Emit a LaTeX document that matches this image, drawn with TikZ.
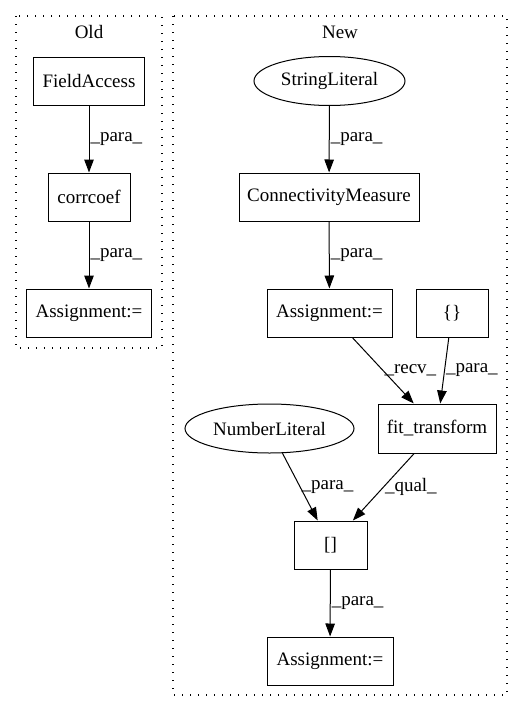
\documentclass[tikz,border=0pt]{standalone}
\usepackage{fontspec}
\setmainfont{Liberation Serif}
\usetikzlibrary{arrows.meta, shapes.geometric}

\begin{document}
\begin{tikzpicture}[x=1pt, y=-1pt, font=\fontsize{19}{22}\selectfont,
        box/.style={draw, line width=1pt, minimum height=48pt, inner sep=0pt},
        oval/.style={draw, ellipse, line width=1pt, minimum height=49pt, inner sep=0pt},
        flow/.style={->, line width=1pt, >={Triangle[length=13pt, width=9.5pt]}},
        lbl/.style={midway, anchor=west, inner sep=1pt},
        cluster/.style={line width=1.2pt, dash pattern=on 1.3pt off 6.7pt}]
        \useasboundingbox (0,0) rectangle (523,712);

        % old version
        \draw [cluster] (16,16) rectangle (162,348);
        \node (T1) at (89,32) {Old};
        \node [box, minimum width=111pt] (O1) at (89,81) {FieldAccess};
        \node [box, minimum width=82pt] (O2) at (89,197) {corrcoef};
        \node [box, minimum width=125pt] (O3) at (89,313) {Assignment:=};

        \draw [flow] (O1) -- (O2) node [lbl] {\_para\_};
        \draw [flow] (O2) -- (O3) node [lbl] {\_para\_};

        % new version
        \draw [cluster] (173,16) rectangle (507,695);
        \node (T2) at (340,32) {New};
        \node [oval, minimum width=151pt] (N1) at (329.5,81) {StringLiteral};
        \node [box, minimum width=180pt] (N2) at (329,197) {ConnectivityMeasure};
        \node [box, minimum width=125pt] (N3) at (329.5,313) {Assignment:=};
        \node [box, minimum width=72pt] (N4) at (452,313) {\{\}};
        \node [box, minimum width=118pt, minimum height=49pt] (N5) at (437,428.5) {fit\_transform};
        \node [oval, minimum width=169pt] (N6) at (269.5,428.5) {NumberLiteral};
        \node [box, minimum width=73pt] (N7) at (330.5,545) {[]};
        \node [box, minimum width=126pt] (N8) at (330,661) {Assignment:=};

        \draw [flow] (N1) -- (N2) node [lbl] {\_para\_};
        \draw [flow] (N2) -- (N3) node [lbl] {\_para\_};
        \draw [flow] (N3) -- (N5) node [lbl] {\_recv\_};
        \draw [flow] (N4) -- (N5) node [lbl] {\_para\_};
        \draw [flow] (N6) -- (N7) node [lbl] {\_para\_};
        \draw [flow] (N5) -- (N7) node [lbl] {\_qual\_};
        \draw [flow] (N7) -- (N8) node [lbl] {\_para\_};
\end{tikzpicture}
\end{document}
